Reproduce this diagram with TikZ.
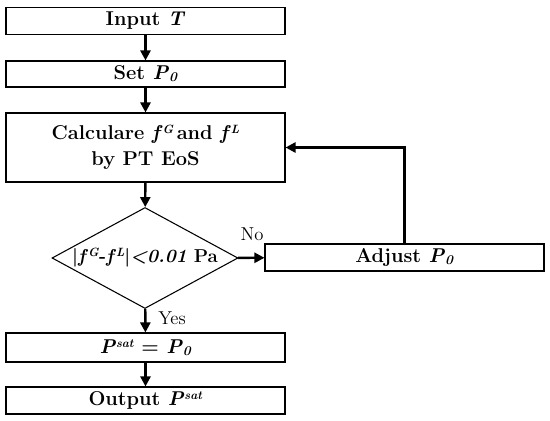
\documentclass[tikz,border=0pt]{standalone}
\usetikzlibrary{shapes.geometric,arrows.meta}
\newcommand{\mysup}[1]{\raisebox{0.7ex}{\fontsize{9}{9}\selectfont\textit{#1}}}
\newcommand{\mysub}[1]{\raisebox{-0.25ex}{\fontsize{10}{10}\selectfont\textit{#1}}}
\begin{document}
\begin{tikzpicture}[x=0.75pt,y=-0.75pt,
  box/.style={draw=black,line width=0.8pt,rectangle,minimum width=279*0.75pt,inner sep=0pt,align=center,font=\fontsize{15}{19.5}\selectfont\bfseries},
  dia/.style={draw=black,line width=0.8pt,diamond,aspect=1.84,minimum width=186*0.75pt,minimum height=101*0.75pt,inner sep=0pt,font=\fontsize{14}{17}\selectfont\bfseries},
  arr/.style={line width=1.8pt,-{Triangle[length=7.5pt,width=7.5pt]}},
  lab/.style={font=\fontsize{14}{16}\selectfont,inner sep=0pt}]
\useasboundingbox (0,0) rectangle (550,421);
\node[box,minimum height=27*0.75pt] (in) at (145.5,21) {Input \textit{T}};
\node[box,minimum height=26*0.75pt] (set) at (145.5,74) {Set \textit{P}\mysub{0}};
\node[box,minimum height=69*0.75pt] (calc) at (145.5,147.5) {Calculare \textit{f}\mysup{G}\,and \textit{f}\mysup{L}\\by PT EoS};
\node[dia] (dec) at (145,258) {|\textit{f}\mysup{G}-\textit{f}\mysup{L}|\textit{<0.01} Pa};
\node[box,minimum height=27*0.75pt] (adj) at (404.5,257.5) {Adjust \textit{P}\mysub{0}};
\node[box,minimum height=29*0.75pt] (psat) at (145.5,347.5) {\textit{P}\mysup{sat} = \textit{P}\mysub{0}};
\node[box,minimum height=27*0.75pt] (out) at (145.5,400.5) {Output \textit{P}\mysup{sat}};
\draw[arr] (in) -- (set);
\draw[arr] (set) -- (calc);
\draw[arr] (calc) -- (dec);
\draw[arr] (dec) -- (adj);
\draw[arr] (dec) -- (psat);
\draw[arr] (psat) -- (out);
\draw[arr] (adj.north) |- (calc.east);
\node[lab] (no) at (252,234) {No};
\node[lab] (yes) at (172,318) {Yes};
\end{tikzpicture}
\end{document}
